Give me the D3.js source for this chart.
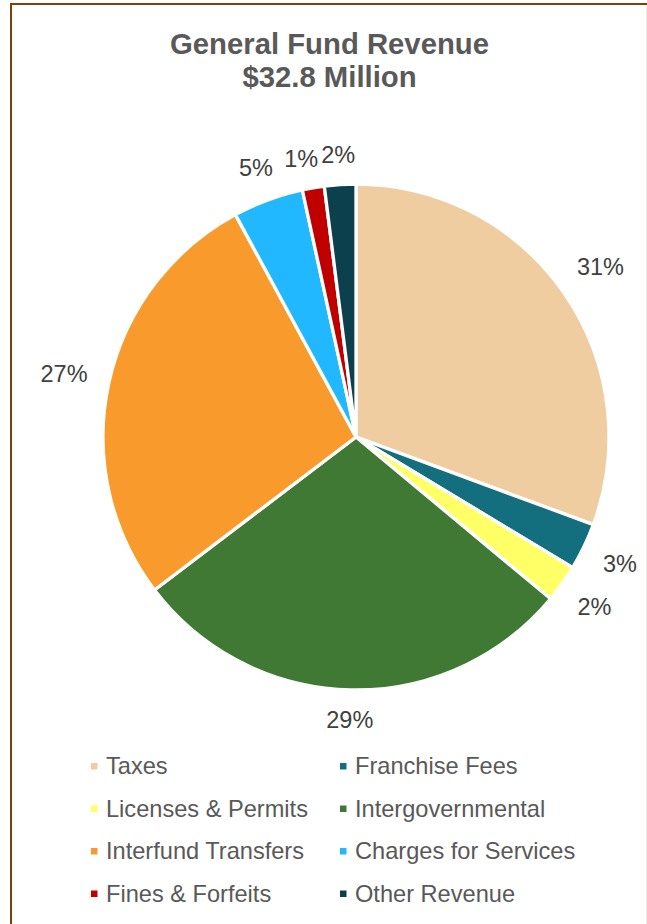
<!DOCTYPE html>
<html>
<head>
<meta charset="utf-8">
<script src="https://cdn.jsdelivr.net/npm/d3@7"></script>
<style>
  body { margin: 0; background: #fff; }
  svg { display: block; font-family: "Liberation Sans", Arial, sans-serif; }
</style>
</head>
<body>
<script>
// chart data (percent of $32.8M general fund revenue)
const categories = ["Taxes", "Franchise Fees", "Licenses & Permits", "Intergovernmental",
                    "Interfund Transfers", "Charges for Services", "Fines & Forfeits", "Other Revenue"];
const shares = [30.6, 3.0, 2.4, 28.6, 27.4, 4.5, 1.4, 2.0];
const colors = ["#F0CDA0", "#136E7E", "#FFFF66", "#3F7933", "#F99B2C", "#22B8FF", "#C00000", "#0B404C"];
const titleLines = ["General Fund Revenue", "$32.8 Million"];

const width = 647, height = 924;
const cx = 356, cy = 437, radius = 253;

const svg = d3.select("body").append("svg")
  .attr("width", width)
  .attr("height", height);

svg.append("rect").attr("width", width).attr("height", height).attr("fill", "#fff");

// frame
svg.append("rect")
  .attr("x", 11).attr("y", 4)
  .attr("width", 800).attr("height", 1000)
  .attr("fill", "none")
  .attr("stroke", "#7F3F0A")
  .attr("stroke-width", 2);
svg.append("line")
  .attr("x1", 646.5).attr("x2", 646.5).attr("y1", 5).attr("y2", height)
  .attr("stroke", "#EFEAE2").attr("stroke-width", 1);

// title
svg.append("text")
  .attr("x", 329.5).attr("y", 54)
  .attr("text-anchor", "middle")
  .attr("font-size", 29.3).attr("font-weight", "bold")
  .attr("fill", "#595959")
  .selectAll("tspan").data(titleLines).enter().append("tspan")
    .attr("x", 329.5)
    .attr("dy", (d, i) => i ? 32.5 : 0)
    .text(d => d);

const data = categories.map((c, i) => ({ name: c, value: shares[i], color: colors[i] }));
const total = d3.sum(shares);

const pie = d3.pie().sort(null).value(d => d.value);
const arcs = pie(data);
const arc = d3.arc().innerRadius(0).outerRadius(radius);

const g = svg.append("g").attr("transform", "translate(" + cx + "," + cy + ")");

g.selectAll(".slice")
  .data(arcs)
  .enter().append("path")
    .attr("class", "slice")
    .attr("d", arc)
    .attr("fill", d => d.data.color)
    .attr("stroke", "#fff")
    .attr("stroke-width", 3.3)
    .attr("stroke-linejoin", "round");

// outside end labels
const labelSize = 23.5, gap = 21, halfH = 8;
const lbl = g.selectAll(".lbl")
  .data(arcs)
  .enter().append("text")
    .attr("class", "lbl")
    .attr("dy", "0.35em")
    .attr("text-anchor", "middle")
    .attr("font-size", labelSize)
    .attr("fill", "#404040")
    .text(d => Math.round(d.data.value / total * 100) + "%");

const pos = [];
lbl.each(function(d) {
  const w = this.getComputedTextLength();
  const a = (d.startAngle + d.endAngle) / 2;
  const s = Math.sin(a), c = Math.cos(a);
  const dist = radius + gap + Math.abs(s) * w / 2 + Math.abs(c) * halfH;
  pos.push({ w: w, x: s * dist, y: -c * dist });
});

// push crowded labels near the top apart (right to left)
for (let i = pos.length - 2; i >= 0; i--) {
  const a = pos[i], b = pos[i + 1];
  if (a.y < -200 && b.y < -200) {
    const minDx = (a.w + b.w) / 2 + 3;
    if (b.x - a.x < minDx) {
      a.x = b.x - minDx;
      a.y += 2;
    }
  }
}

lbl.attr("x", (d, i) => pos[i].x).attr("y", (d, i) => pos[i].y);

// legend
const colX = [91, 340], rowY0 = 766, rowStep = 42.5;
const legend = svg.selectAll(".leg")
  .data(data)
  .enter().append("g")
    .attr("class", "leg")
    .attr("transform", (d, i) => "translate(" + colX[i % 2] + "," + (rowY0 + Math.floor(i / 2) * rowStep) + ")");

legend.append("rect")
  .attr("x", 0).attr("y", -3)
  .attr("width", 6.5).attr("height", 6.5)
  .attr("fill", d => d.color);

legend.append("text")
  .attr("x", 15)
  .attr("dy", "0.35em")
  .attr("font-size", 23.6)
  .attr("fill", "#595959")
  .text(d => d.name);
</script>
</body>
</html>
